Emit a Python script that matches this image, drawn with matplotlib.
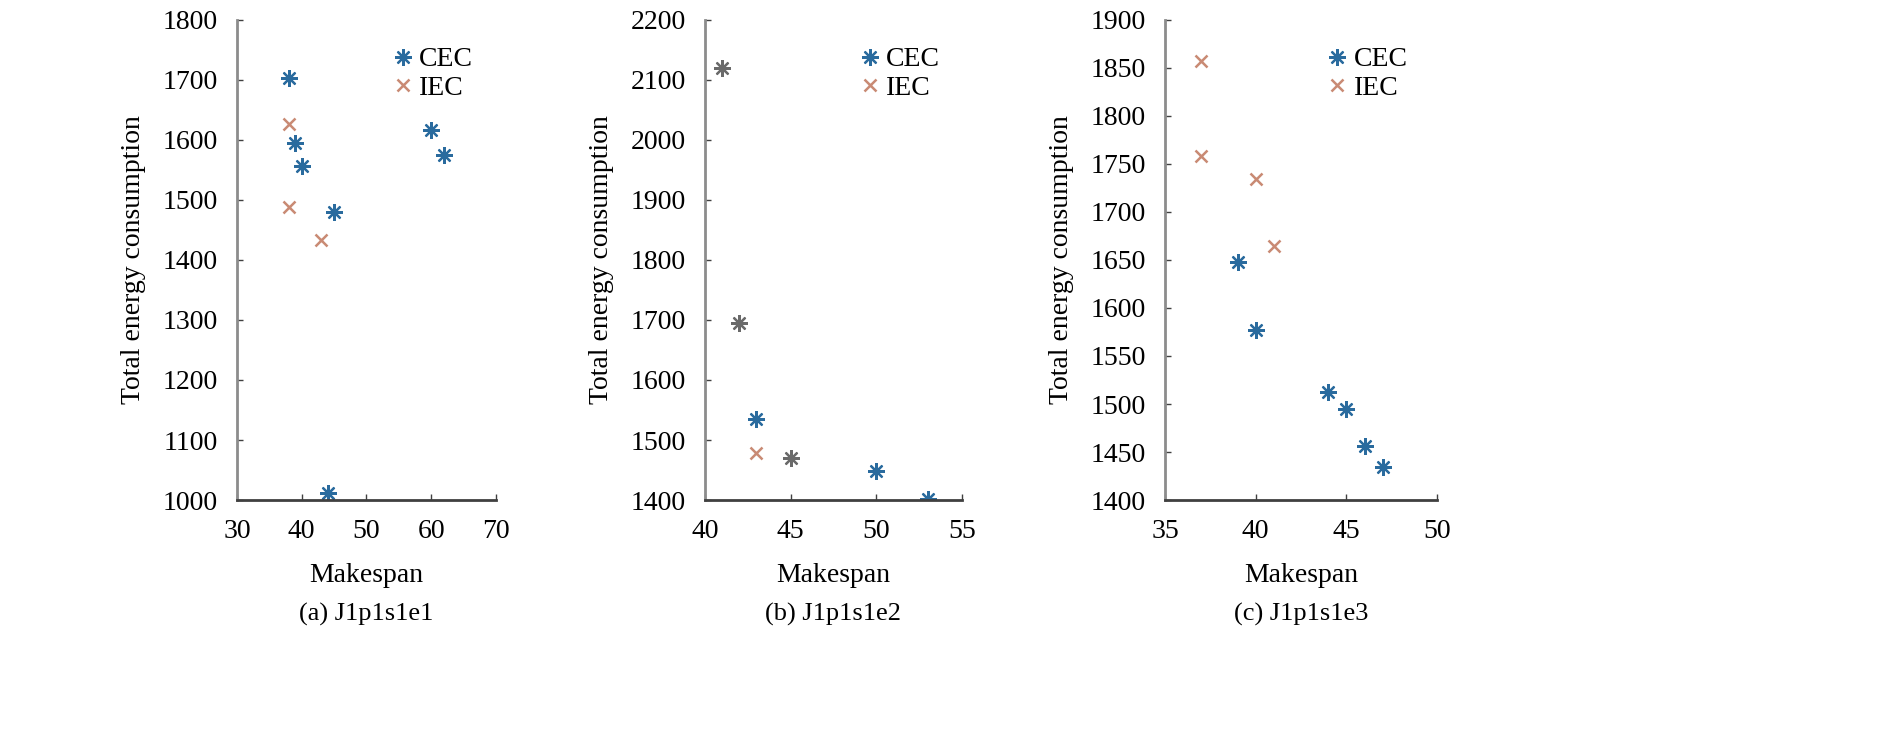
import numpy as np
import matplotlib.pyplot as plt

plt.rcParams['font.family'] = ['Liberation Serif', 'DejaVu Serif']
plt.rcParams['font.size'] = 20

# (a) J1p1s1e1
a_cec_x = [38, 39, 40, 45, 60, 62, 44]
a_cec_y = [1703, 1595, 1557, 1480, 1617, 1575, 1012]
a_iec_x = [38, 38, 43]
a_iec_y = [1626, 1488, 1434]

# (b) J1p1s1e2
b_cec_x = [43, 50, 53]
b_cec_y = [1535, 1448, 1402]
b_iec_x = [43]
b_iec_y = [1478]
b_both_x = [41, 42, 45]
b_both_y = [2120, 1695, 1470]

# (c) J1p1s1e3
c_cec_x = [39, 40, 44, 45, 46, 47]
c_cec_y = [1648, 1577, 1512, 1495, 1456, 1434]
c_iec_x = [37, 37, 40, 41]
c_iec_y = [1857, 1758, 1734, 1665]

CEC_COLOR = '#2a6b9e'
IEC_COLOR = '#c98a74'
BOTH_COLOR = '#6a6a6a'
ASTERISK = (8, 2, 0)

fig = plt.figure(figsize=(18.9, 7.55), dpi=100)

panels = [
    dict(pos=[0.1254, 0.3377, 0.137, 0.636], cec=(a_cec_x, a_cec_y), iec=(a_iec_x, a_iec_y),
         both=None, xlim=(30, 70), xstep=10, ylim=(1000, 1800), ystep=100, cap='(a) J1p1s1e1'),
    dict(pos=[0.373, 0.3377, 0.136, 0.636], cec=(b_cec_x, b_cec_y), iec=(b_iec_x, b_iec_y),
         both=(b_both_x, b_both_y), xlim=(40, 55), xstep=5, ylim=(1400, 2200), ystep=100, cap='(b) J1p1s1e2'),
    dict(pos=[0.6164, 0.3377, 0.144, 0.636], cec=(c_cec_x, c_cec_y), iec=(c_iec_x, c_iec_y),
         both=None, xlim=(35, 50), xstep=5, ylim=(1400, 1900), ystep=50, cap='(c) J1p1s1e3'),
]

for p in panels:
    ax = fig.add_axes(p['pos'])
    ax.plot(*p['cec'], linestyle='none', marker=ASTERISK, markersize=12, color=CEC_COLOR,
            markeredgecolor=CEC_COLOR, markeredgewidth=1.6, label='CEC')
    ax.plot(*p['iec'], linestyle='none', marker='x', markersize=9, color=IEC_COLOR,
            markeredgewidth=1.8, label='IEC')
    if p['both'] is not None:
        ax.plot(*p['both'], linestyle='none', marker=ASTERISK, markersize=12, color=BOTH_COLOR,
                markeredgecolor=BOTH_COLOR, markeredgewidth=1.6)
    ax.set_xlim(p['xlim'])
    ax.set_ylim(p['ylim'])
    ax.set_xticks(np.arange(p['xlim'][0], p['xlim'][1] + 0.1, p['xstep']))
    ax.set_yticks(np.arange(p['ylim'][0], p['ylim'][1] + 0.1, p['ystep']))
    ax.spines['top'].set_visible(False)
    ax.spines['right'].set_visible(False)
    ax.spines['left'].set_color('#8c8c8c')
    ax.spines['left'].set_linewidth(2)
    ax.spines['bottom'].set_color('#404040')
    ax.spines['bottom'].set_linewidth(2)
    ax.tick_params(direction='in', length=4, width=1, colors='#404040', labelcolor='black',
                   labelsize=20, pad=14)
    ax.set_xlabel('Makespan', fontsize=20, labelpad=13)
    ax.set_ylabel('Total energy consumption', fontsize=20, labelpad=12)
    ax.text(0.5, -0.215, p['cap'], transform=ax.transAxes, ha='center', va='top', fontsize=19)
    ax.legend(loc='upper left', bbox_to_anchor=(0.5, 0.99), frameon=False, fontsize=20,
              handletextpad=0.1, labelspacing=0.1, handlelength=1.0, borderpad=0.3)

fig.savefig('out.png', dpi=100)
